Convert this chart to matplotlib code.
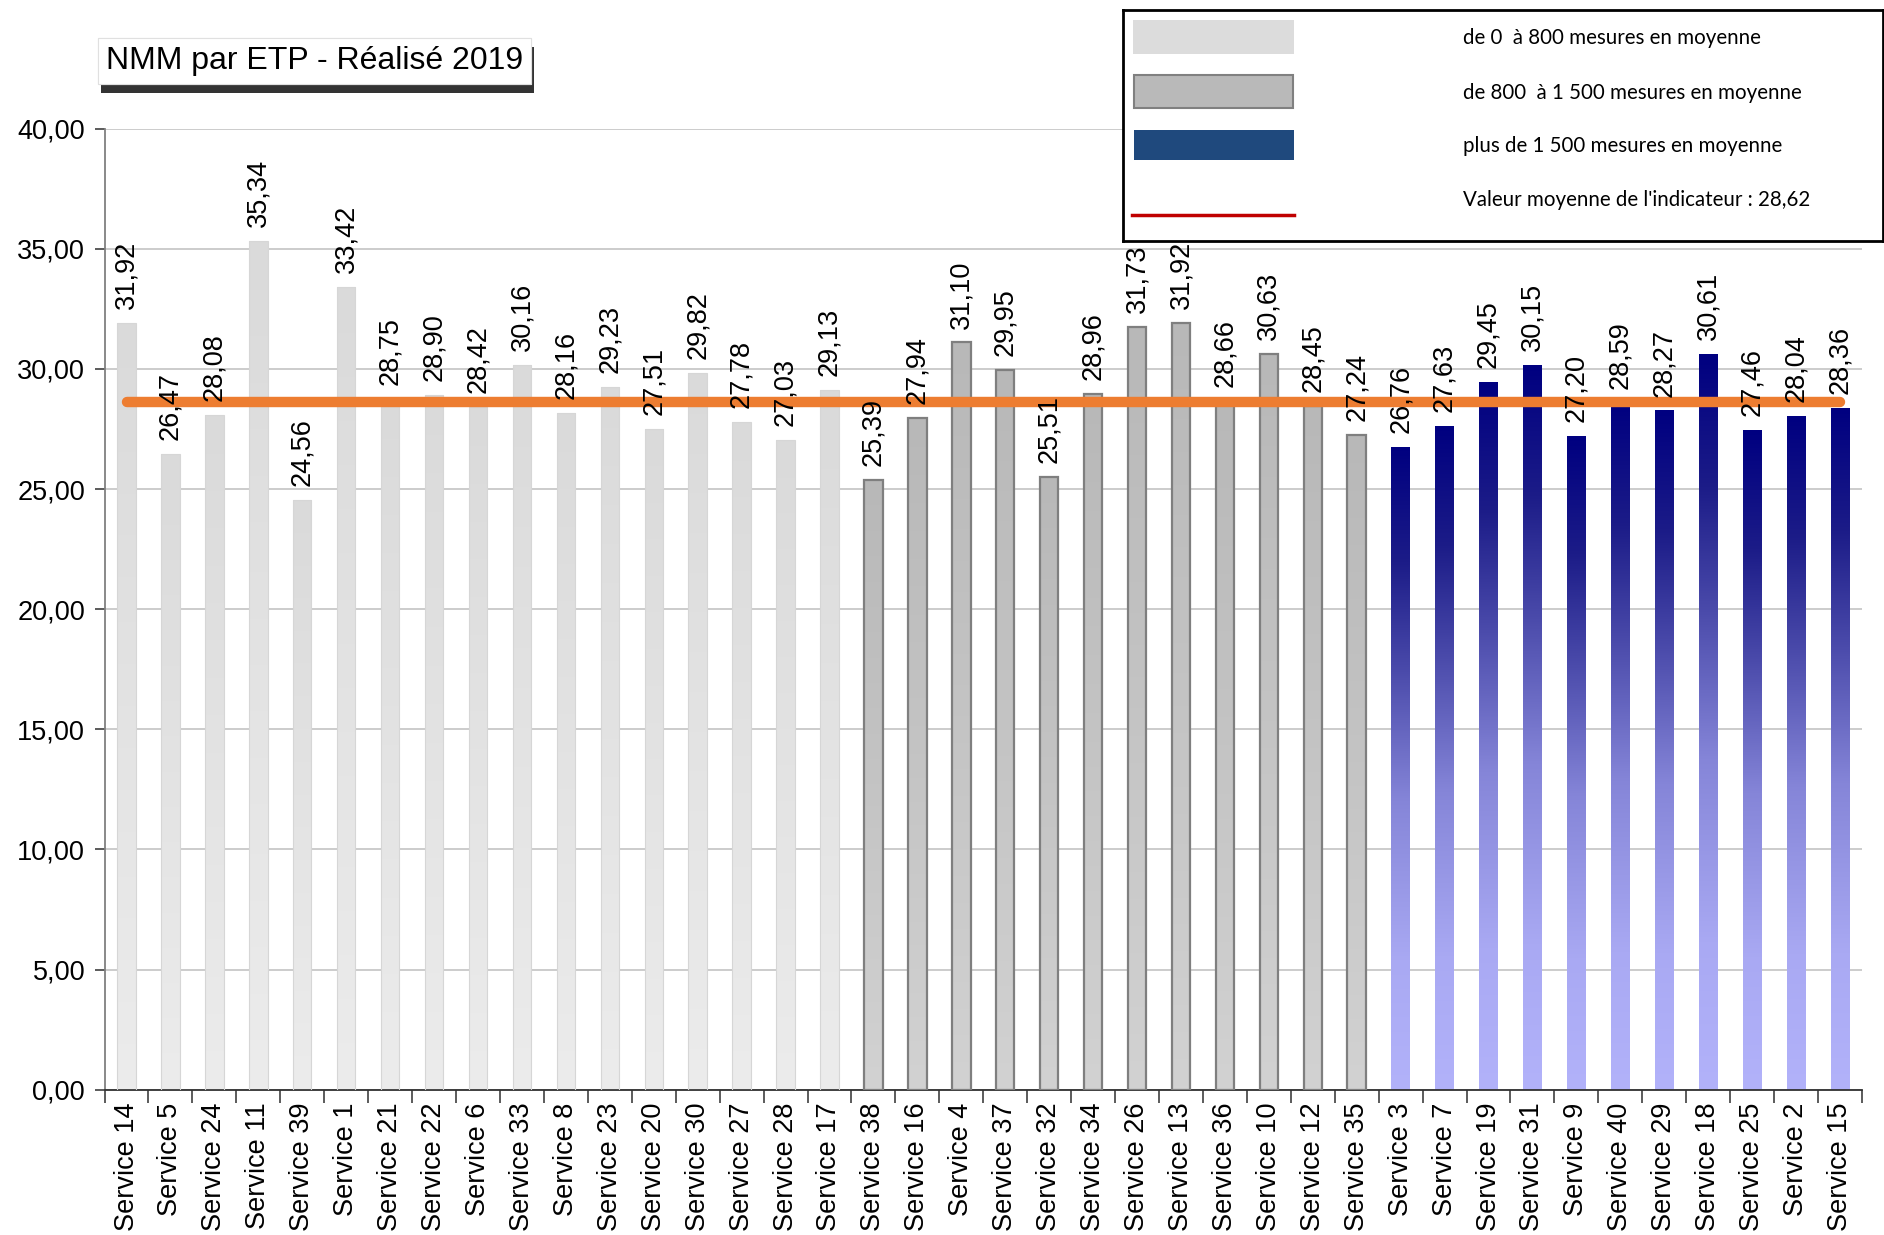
import numpy as np
import matplotlib
matplotlib.use('Agg')
import matplotlib.pyplot as plt
from matplotlib.colors import LinearSegmentedColormap
from matplotlib.patches import Rectangle
from matplotlib.lines import Line2D
import matplotlib.patheffects as pe

plt.rcParams['font.family'] = ['Liberation Sans', 'DejaVu Sans']

# services grouped by volume class (order as in the chart)
services_low = ['Service 14', 'Service 5', 'Service 24', 'Service 11', 'Service 39',
                'Service 1', 'Service 21', 'Service 22', 'Service 6', 'Service 33',
                'Service 8', 'Service 23', 'Service 20', 'Service 30', 'Service 27',
                'Service 28', 'Service 17']
values_low = [31.92, 26.47, 28.08, 35.34, 24.56, 33.42, 28.75, 28.90, 28.42, 30.16,
              28.16, 29.23, 27.51, 29.82, 27.78, 27.03, 29.13]

services_mid = ['Service 38', 'Service 16', 'Service 4', 'Service 37', 'Service 32',
                'Service 34', 'Service 26', 'Service 13', 'Service 36', 'Service 10',
                'Service 12', 'Service 35']
values_mid = [25.39, 27.94, 31.10, 29.95, 25.51, 28.96, 31.73, 31.92, 28.66, 30.63,
              28.45, 27.24]

services_high = ['Service 3', 'Service 7', 'Service 19', 'Service 31', 'Service 9',
                 'Service 40', 'Service 29', 'Service 18', 'Service 25', 'Service 2',
                 'Service 15']
values_high = [26.76, 27.63, 29.45, 30.15, 27.20, 28.59, 28.27, 30.61, 27.46, 28.04,
               28.36]

mean_value = 28.62
legend_labels = ['de 0  à 800 mesures en moyenne',
                 'de 800  à 1 500 mesures en moyenne',
                 'plus de 1 500 mesures en moyenne',
                 "Valeur moyenne de l'indicateur : 28,62"]

services = services_low + services_mid + services_high
values = values_low + values_mid + values_high
groups = [0] * len(services_low) + [1] * len(services_mid) + [2] * len(services_high)

# gradient maps: 0 = bottom of bar, 1 = top
cmap_low = LinearSegmentedColormap.from_list('low', ['#ececec', '#e3e3e3', '#dadada'])
cmap_mid = LinearSegmentedColormap.from_list('mid', ['#d2d2d2', '#c4c4c4', '#b8b8b8'])
cmap_high = LinearSegmentedColormap.from_list(
    'high', [(0.0, '#b2b2fa'), (0.2, '#a9a9f3'), (0.45, '#8585d8'),
             (0.65, '#4b4bab'), (0.82, '#1c1c88'), (1.0, '#000080')])
cmaps = [cmap_low, cmap_mid, cmap_high]
edge_colors = ['#d6d6d6', '#7f7f7f', 'none']
edge_widths = [0.8, 1.6, 0]

FS = 19.5


def fmt(v):
    return f'{v:.2f}'.replace('.', ',')


fig = plt.figure(figsize=(18.84, 12.35), dpi=100)
ax = fig.add_axes([0.0555, 0.1176, 0.9328, 0.7783])

x = np.arange(len(services))
bar_width = 0.42
bars = ax.bar(x, values, width=bar_width, color='none', zorder=3)
grad = np.linspace(0, 1, 256).reshape(-1, 1)
for b, g, v in zip(bars, groups, values):
    x0 = b.get_x()
    img = ax.imshow(grad, cmap=cmaps[g], origin='lower', aspect='auto',
                    extent=(x0, x0 + bar_width, 0, v), zorder=2)
    img.set_clip_path(b)
    b.set_edgecolor(edge_colors[g])
    b.set_linewidth(edge_widths[g])
    ax.annotate(fmt(v), (b.get_x() + bar_width / 2, v), xytext=(0, 10),
                textcoords='offset points', rotation=90, ha='center', va='bottom',
                fontsize=FS, zorder=5)

# mean line
ax.plot([x[0], x[-1]], [mean_value, mean_value], color='#ed7d31', lw=7.5,
        solid_capstyle='round', zorder=4)

ax.set_xlim(-0.5, len(services) - 0.5)
ax.set_ylim(0, 40)
ax.set_yticks(np.arange(0, 41, 5))
ax.set_yticklabels([fmt(t) for t in np.arange(0, 41, 5)], fontsize=FS)
ax.yaxis.grid(True, color='#c4c4c4', lw=1.2, zorder=0)
ax.set_axisbelow(True)

ax.set_xticks(x)
ax.set_xticklabels(services, rotation=90, fontsize=FS, va='top')
ax.set_xticks(np.arange(-0.5, len(services), 1), minor=True)
ax.tick_params(axis='x', which='major', length=0, pad=9)
ax.tick_params(axis='x', which='minor', length=9, width=1.2, color='#404040')
ax.tick_params(axis='y', length=7, width=1.2, color='#404040', pad=7)

for s in ['top', 'right']:
    ax.spines[s].set_visible(False)
ax.spines['left'].set_color('#808080')
ax.spines['left'].set_linewidth(1.3)
ax.spines['bottom'].set_color('#303030')
ax.spines['bottom'].set_linewidth(1.3)

# title box with shadow
t = fig.text(0.167, 0.951, 'NMM par ETP - Réalisé 2019', fontsize=23,
             ha='center', va='center',
             bbox=dict(boxstyle='square,pad=0.25', fc='white', ec='#e0e0e0', lw=0.8))
t.get_bbox_patch().set_path_effects([
    pe.withSimplePatchShadow(offset=(2, -7), shadow_rgbFace='black', alpha=0.8),
    pe.Normal()])

# legend box drawn in its own pixel-based axes
W, H = 1884, 1235
lx0, ly0, lx1, ly1 = 1123, 10, 1883, 241
lax = fig.add_axes([lx0 / W, 1 - ly1 / H, (lx1 - lx0) / W, (ly1 - ly0) / H])
lax.set_xlim(lx0, lx1)
lax.set_ylim(ly1, ly0)
lax.set_xticks([])
lax.set_yticks([])
lax.set_facecolor('white')
for s in lax.spines.values():
    s.set_color('black')
    s.set_linewidth(2)
lax.add_patch(Rectangle((1133, 20), 161, 34, fc='#dcdcdc', ec='none'))
lax.add_patch(Rectangle((1134, 75), 159, 33, fc='#b9b9b9', ec='#808080', lw=1.5))
lax.add_patch(Rectangle((1134, 130), 160, 30, fc='#1f497d', ec='none'))
lax.add_line(Line2D([1132, 1294], [215, 215], color='#c00000', lw=2.5))
for yy, lab in zip([38, 93, 146, 200], legend_labels):
    lax.text(1463, yy, lab, fontsize=14.8, family=['Lato', 'DejaVu Sans'],
             va='center', ha='left')

fig.savefig('out.png', dpi=100)
